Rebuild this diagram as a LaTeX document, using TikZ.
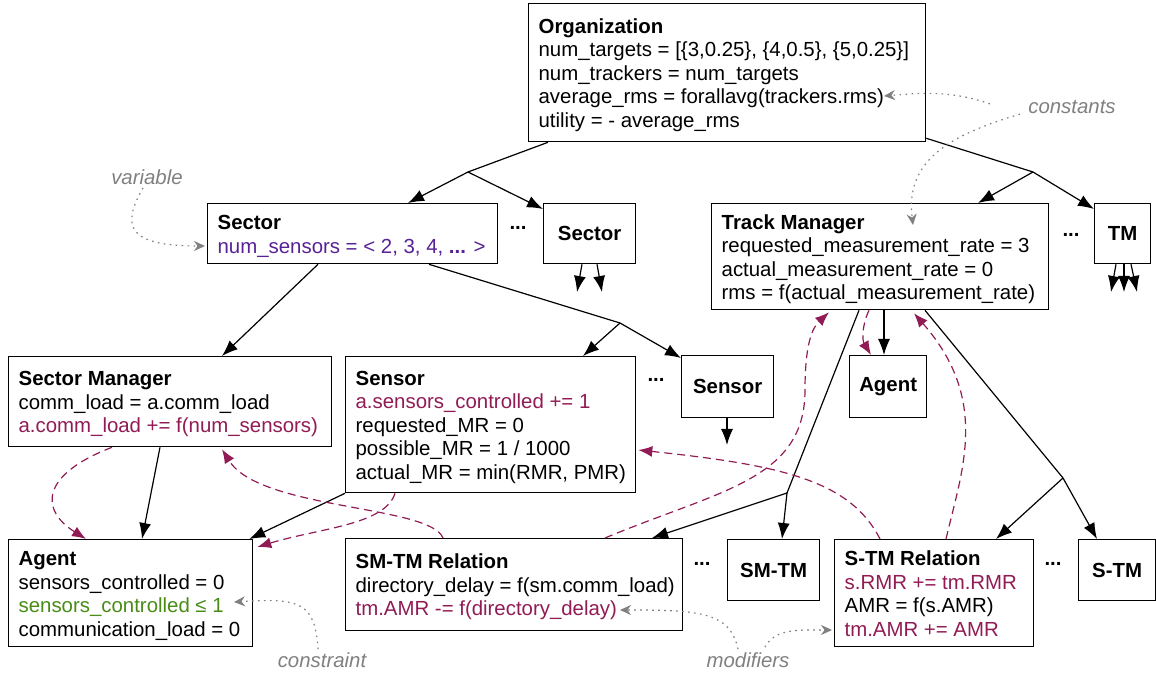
\documentclass[tikz,border=0pt]{standalone}
\usepackage{fontspec}
\setmainfont{Liberation Sans}
\usetikzlibrary{arrows.meta,calc}
\definecolor{mar}{RGB}{145,28,85}
\definecolor{pur}{RGB}{88,34,150}
\definecolor{grn}{RGB}{72,140,22}
\definecolor{gry}{RGB}{128,128,128}
\newcommand{\bxc}[2]{\raisebox{-1.5pt}[\height][\depth]{\makebox[#1][l]{\begin{tabular}{@{}l@{}}#2\end{tabular}}}}
\tikzset{
 box/.style={draw, line width=0.65pt, fill=white, anchor=north west, inner xsep=5pt, inner ysep=0pt, font=\fontsize{10.2}{11.75}\selectfont},
 sbox/.style={draw, line width=0.65pt, fill=white, anchor=north west, inner sep=0pt, align=center, font=\fontsize{10.2}{11.75}\selectfont\bfseries},
 conn/.style={line width=0.6pt, -{Latex[length=8pt,width=6pt]}},
 seg/.style={line width=0.6pt},
 modarr/.style={mar, line width=0.6pt, dash pattern=on 4pt off 2.5pt, -{Latex[length=7pt,width=5.5pt]}},
 notearr/.style={gry, line width=0.6pt, dash pattern=on 0.8pt off 2.2pt, -{Stealth[length=5.5pt,width=5pt]}},
 lbl/.style={gry, font=\fontsize{10.2}{12}\selectfont\itshape, inner sep=0pt},
 dotsn/.style={font=\fontsize{10.2}{12}\selectfont\bfseries, inner sep=0pt},
}
\begin{document}
\begin{tikzpicture}[x=0.5pt,y=-0.5pt]
\useasboundingbox (0,0) rectangle (1156,673);

% boxes
\node[box, minimum height=69pt] (org) at (528,3) {\bxc{188.5pt}{\textbf{Organization}\\
num\_targets = [\{3,0.25\}, \{4,0.5\}, \{5,0.25\}]\\
num\_trackers = num\_targets\\
average\_rms = forallavg(trackers.rms)\\
utility = - average\_rms}};

\node[box, minimum height=30pt] (sector) at (207,203) {\bxc{135pt}{\textbf{Sector}\\
\textcolor{pur}{num\_sensors = < 2, 3, 4, \textbf{...} >}}};

\node[sbox, minimum width=46pt, minimum height=30pt] (sectorB) at (543,203) {Sector};

\node[box, minimum height=53pt] (tm) at (711,203) {\bxc{158.5pt}{\textbf{Track Manager}\\
requested\_measurement\_rate = 3\\
actual\_measurement\_rate = 0\\
rms = f(actual\_measurement\_rate)}};

\node[sbox, minimum width=28pt, minimum height=30pt] (tmB) at (1094,203) {TM};

\node[box, minimum height=45pt] (sm) at (8,356) {\bxc{151.5pt}{\textbf{Sector Manager}\\
comm\_load = a.comm\_load\\
\textcolor{mar}{a.comm\_load += f(num\_sensors)}}};

\node[box, minimum height=68pt] (sensor) at (345,356) {\bxc{135pt}{\textbf{Sensor}\\
\textcolor{mar}{a.sensors\_controlled += 1}\\
requested\_MR = 0\\
possible\_MR = 1 / 1000\\
actual\_MR = min(RMR, PMR)}};

\node[sbox, minimum width=46pt, minimum height=31pt] (sensorB) at (681,355) {Sensor};
\node[sbox, minimum width=38.5pt, minimum height=31pt] (agentB) at (849,355) {Agent};

\node[box, minimum height=53.5pt] (agent) at (8,539) {\bxc{112pt}{\textbf{Agent}\\
sensors\_controlled = 0\\
\textcolor{grn}{sensors\_controlled ≤ 1}\\
communication\_load = 0}};

\node[box, minimum height=46pt] (smtm) at (345,538) {\bxc{158.5pt}{\textbf{SM-TM Relation}\\
directory\_delay = f(sm.comm\_load)\\
\textcolor{mar}{tm.AMR -= f(directory\_delay)}}};

\node[sbox, minimum width=46pt, minimum height=30.5pt] (smtmB) at (727,539) {SM-TM};

\node[box, minimum height=53.5pt] (stm) at (834,539) {\bxc{89.5pt}{\textbf{S-TM Relation}\\
\textcolor{mar}{s.RMR += tm.RMR}\\
AMR = f(s.AMR)\\
\textcolor{mar}{tm.AMR += AMR}}};

\node[sbox, minimum width=38.5pt, minimum height=30.5pt] (stmB) at (1078,539) {S-TM};

% ellipses
\node[dotsn] (e1) at (518,228) {...};
\node[dotsn] (e2) at (1071,235) {...};
\node[dotsn] (e3) at (656,380) {...};
\node[dotsn] (e4) at (702,564) {...};
\node[dotsn] (e5) at (1053,564) {...};

% labels
\node[lbl] (lvar) at (147,177) {variable};
\node[lbl] (lconst) at (1072,107) {constants};
\node[lbl] (lcons) at (322,660) {constraint};
\node[lbl] (lmod) at (748,660) {modifiers};

% branch points and free ends
\coordinate (b1) at (468,172);
\coordinate (b2) at (1033,172);
\coordinate (b3) at (620,323);
\coordinate (b4) at (787,493);
\coordinate (b5) at (1063,478);
\coordinate (f1) at (577,292);
\coordinate (f2) at (602,292);
\coordinate (f3) at (1111,292);
\coordinate (f4) at (1124,292);
\coordinate (f5) at (1137,292);
\coordinate (f6) at (727,445);

% tree connectors
\draw[seg] ($(org.south west)+(20,0)$) -- (b1);
\draw[conn] (b1) -- ($(sector.north west)+(201,0)$);
\draw[conn] (b1) -- ($(sectorB.north west)+(0,6)$);
\draw[seg] ($(org.south east)+(0,-4)$) -- (b2);
\draw[conn] (b2) -- ($(tm.north west)+(267,0)$);
\draw[conn] (b2) -- ($(tmB.north west)+(0,6)$);

\draw[conn] ($(sector.south west)+(111,0)$) -- ($(sm.north west)+(214,0)$);
\draw[seg] ($(sector.south west)+(222,0)$) -- (b3);
\draw[conn] (b3) -- ($(sensor.north west)+(238,0)$);
\draw[conn] (b3) -- ($(sensorB.north west)+(0,3)$);

\draw[conn] ($(sectorB.south west)+(39,0)$) -- (f1);
\draw[conn] ($(sectorB.south west)+(54,0)$) -- (f2);
\draw[conn] ($(tmB.south west)+(22,0)$) -- (f3);
\draw[conn] ($(tmB.south west)+(30,0)$) -- (f4);
\draw[conn] ($(tmB.south west)+(37,0)$) -- (f5);
\draw[conn] ($(sensorB.south west)+(46,0)$) -- (f6);

\draw[conn] ($(tm.south west)+(173,0)$) -- ($(agentB.north west)+(35,0)$);
\draw[seg] ($(tm.south west)+(148,0)$) -- (b4);
\draw[conn] (b4) -- ($(smtmB.north west)+(55,0)$);
\draw[conn] (b4) -- ($(smtm.north west)+(307,0)$);
\draw[seg] ($(tm.south west)+(214,0)$) -- (b5);
\draw[conn] (b5) -- ($(stm.north west)+(162,0)$);
\draw[conn] (b5) -- ($(stmB.north west)+(19,0)$);

\draw[conn] ($(sm.south west)+(152,0)$) -- ($(agent.north west)+(134,0)$);
\draw[conn] (sensor.south west) -- ($(agent.north east)+(-4,0)$);

% modifier (dashed) arrows
\draw[modarr] ($(sm.south west)+(104,0)$) .. controls (40,475) and (40,510) .. ($(agent.north west)+(78,0)$);
\draw[modarr] ($(smtm.north west)+(98,0)$) .. controls (430,505) and (260,510) .. ($(sm.south west)+(214,2)$);
\draw[modarr] ($(sensor.south west)+(50,0)$) .. controls (385,525) and (320,528) .. ($(agent.north east)+(4,8)$);
\draw[modarr] ($(smtm.north west)+(260,0)$) .. controls (720,490) and (805,480) .. (805,390) .. controls (805,345) and (812,328) .. ($(tm.south west)+(118,2)$);
\draw[modarr] ($(stm.north west)+(46,0)$) .. controls (850,480) and (780,465) .. ($(sensor.north east)+(2,94)$);
\draw[modarr] ($(stm.north west)+(112,0)$) .. controls (962,470) and (990,400) .. ($(tm.south west)+(203,3)$);
\draw[modarr] ($(tm.south west)+(158,0)$) .. controls (862,325) and (862,340) .. ($(agentB.north west)+(22,0)$);

% annotation (dotted) arrows
\draw[notearr] ($(lvar.south)+(-4,3)$) .. controls (122,225) and (125,246) .. ($(sector.north west)+(-2,43)$);
\draw[notearr] ($(lconst.north west)+(-38,4)$) .. controls (950,90) and (920,93) .. ($(org.north west)+(356,93)$);
\draw[notearr] ($(lconst.south west)+(-8,0)$) .. controls (950,135) and (905,160) .. ($(tm.north west)+(202,22)$);
\draw[notearr] ($(lcons.north)+(-4,-3)$) .. controls (315,602) and (300,598) .. ($(agent.north west)+(226,63)$);
\draw[notearr] ($(lmod.north)+(-10,-3)$) .. controls (730,612) and (700,610) .. ($(smtm.north west)+(275,72)$);
\draw[notearr] ($(lmod.north)+(17,-5)$) .. controls (775,628) and (800,630) .. ($(stm.north west)+(-2,91)$);
\end{tikzpicture}
\end{document}
